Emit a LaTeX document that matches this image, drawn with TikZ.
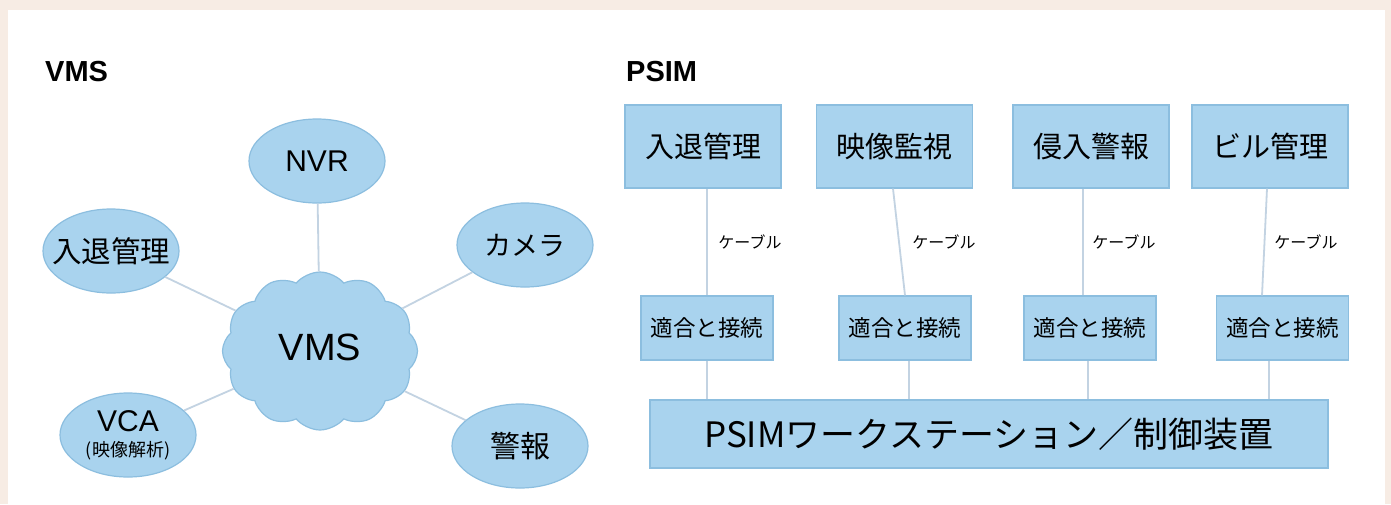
\documentclass[tikz,border=0pt]{standalone}
\usepackage{fontspec}
\setmainfont{Liberation Sans}
\newfontfamily\jp{Noto Sans CJK JP}
\usetikzlibrary{shapes.geometric,shapes.symbols}
\definecolor{bgc}{HTML}{F7ECE4}
\definecolor{fillb}{HTML}{A9D3EE}
\definecolor{edgeb}{HTML}{8CBEDF}
\definecolor{linkc}{HTML}{C3D3E2}
\tikzset{
  oval/.style={ellipse, draw=edgeb, fill=fillb, line width=1.2pt, inner sep=0pt, minimum width=136pt, minimum height=84pt, align=center},
  topbox/.style={rectangle, draw=edgeb, fill=fillb, line width=1.2pt, inner sep=0pt, minimum width=156pt, minimum height=83pt},
  midbox/.style={rectangle, draw=edgeb, fill=fillb, line width=1.2pt, inner sep=0pt, minimum width=132pt, minimum height=64pt},
  link/.style={draw=linkc, line width=1.8pt},
  title/.style={anchor=base west, inner sep=0pt, font=\fontsize{29}{34}\selectfont\bfseries},
  cable/.style={inner sep=0pt, font=\jp\fontsize{16}{18}\selectfont},
}
\begin{document}
\begin{tikzpicture}[x=1pt,y=-1pt]
\fill[bgc] (0,0) rectangle (1391,504);
\fill[white] (8,10) rectangle (1385,504);
\useasboundingbox (0,0) rectangle (1391,504);

% titles
\node[title] (tv) at (45,81) {VMS};
\node[title] (tp) at (626,81) {PSIM};

% VMS side
\node[cloud, cloud puffs=12, cloud puff arc=100, aspect=1.23, draw=edgeb, fill=fillb, line width=1.2pt, inner sep=0pt, minimum width=195pt, minimum height=158pt] (cl) at (320,351) {\raisebox{8pt}{\fontsize{38}{42}\selectfont VMS}};
\node[oval] (nvr) at (317,161) {\makebox[0pt]{\fontsize{30}{34}\selectfont NVR}};
\node[oval] (ent) at (111,251) {\makebox[0pt]{\jp\fontsize{29.5}{32}\selectfont 入退管理}};
\node[oval] (cam) at (525,245) {\makebox[0pt]{\jp\fontsize{27}{32}\selectfont カメラ}};
\node[oval, font=\fontsize{30}{25}\selectfont] (vca) at (128,435) {VCA\\{\jp\fontsize{18}{20}\selectfont (映像解析)}};
\node[oval] (alm) at (520,446) {\makebox[0pt]{\jp\fontsize{30}{34}\selectfont 警報}};

\draw[link] (nvr) -- (cl);
\draw[link] (ent) -- (cl);
\draw[link] (cam) -- (cl);
\draw[link] (vca) -- (cl);
\draw[link] (alm) -- (cl);

% PSIM side
\node[topbox] (t1) at (703,146.5) {\jp\fontsize{29}{32}\selectfont 入退管理};
\node[topbox] (t2) at (894.5,146.5) {\jp\fontsize{29}{32}\selectfont 映像監視};
\node[topbox] (t3) at (1091,146.5) {\jp\fontsize{29}{32}\selectfont 侵入警報};
\node[topbox] (t4) at (1270,146.5) {\jp\fontsize{29}{32}\selectfont ビル管理};

\node[midbox] (m1) at (707,328) {\jp\fontsize{22.5}{26}\selectfont 適合と接続};
\node[midbox] (m2) at (905,328) {\jp\fontsize{22.5}{26}\selectfont 適合と接続};
\node[midbox] (m3) at (1090,328) {\jp\fontsize{22.5}{26}\selectfont 適合と接続};
\node[midbox] (m4) at (1282.5,328) {\jp\fontsize{22.5}{26}\selectfont 適合と接続};

\node[rectangle, draw=edgeb, fill=fillb, line width=1.2pt, inner sep=0pt, minimum width=678pt, minimum height=68pt] (bar) at (989,434) {\jp\fontsize{35}{40}\selectfont PSIMワークステーション／制御装置};

\draw[link] ([xshift=4pt]t1.south) -- (m1.north);
\draw[link] ([xshift=-1.5pt]t2.south) -- (m2.north);
\draw[link] ([xshift=-8pt]t3.south) -- ([xshift=-7pt]m3.north);
\draw[link] ([xshift=-3pt]t4.south) -- ([xshift=-20.5pt]m4.north);

\draw[link] (m1.south) -- (m1.south |- bar.north);
\draw[link] ([xshift=4pt]m2.south) -- ([xshift=4pt]m2.south |- bar.north);
\draw[link] ([xshift=-2pt]m3.south) -- ([xshift=-2pt]m3.south |- bar.north);
\draw[link] ([xshift=-13.5pt]m4.south) -- ([xshift=-13.5pt]m4.south |- bar.north);

\node[cable] (c1) at (750,242) {ケーブル};
\node[cable] (c2) at (944,242) {ケーブル};
\node[cable] (c3) at (1124,242) {ケーブル};
\node[cable] (c4) at (1306,242) {ケーブル};
\end{tikzpicture}
\end{document}
